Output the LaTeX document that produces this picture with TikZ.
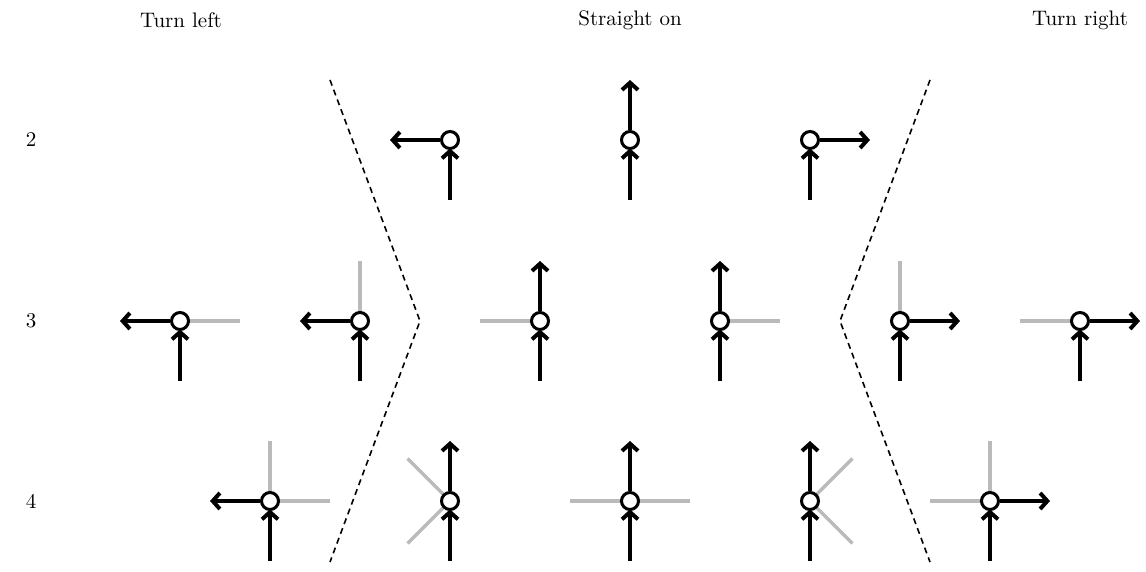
\documentclass[tikz,border=0pt]{standalone}
\usetikzlibrary{arrows.meta,calc}
\tikzset{
  flow/.style={line width=2pt, -{Straight Barb[length=3.6pt,width=8pt]}},
  inflow/.style={line width=2pt, -{Straight Barb[length=3.6pt,width=8pt]}, shorten >=-0.8pt},
  stub/.style={line width=1.6pt, draw=black!27},
  junction/.style={circle, draw=black, line width=1.5pt, fill=white, minimum size=8.5pt, inner sep=0pt},
  divider/.style={line width=0.8pt, dash pattern=on 3pt off 2.2pt},
  heading/.style={font=\fontsize{10.5}{12}\selectfont},
}
% one crossing: #1 name, #2 centre, #3 exit angle, #4 list of blocked-arm angles
\newcommand{\crossing}[4]{%
  \coordinate (#1c) at #2;
  \foreach \a in {#4} {\draw[stub] (#1c) -- ++(\a:30pt);}
  \coordinate (#1in) at ($(#1c)+(0,-30pt)$);
  \node[junction] (#1) at (#1c) {};
  \coordinate (#1out) at ($(#1c)+(#3:30pt)$);
  \draw[inflow] (#1in) -- (#1.south);
  \draw[flow] (#1.#3) -- (#1out);
}
\begin{document}
\begin{tikzpicture}[x=0.5pt,y=-0.5pt]
\useasboundingbox (0,0) rectangle (1146,572);
% column headings and row numbers
\node[heading] (hl) at (181,20) {Turn left};
\node[heading] (hs) at (630,20) {Straight on};
\node[heading] (hr) at (1080,20) {Turn right};
\node[heading] (r2) at (31,140) {2};
\node[heading] (r3) at (31,321) {3};
\node[heading] (r4) at (31,501) {4};
% dividers
\coordinate (dlt) at (330,80); \coordinate (dlm) at (420,321); \coordinate (dlb) at (330,562);
\coordinate (drt) at (930,80); \coordinate (drm) at (840,321); \coordinate (drb) at (930,562);
\draw[divider] (dlt) -- (dlm) -- (dlb);
\draw[divider] (drt) -- (drm) -- (drb);
% row 2
\crossing{a1}{(450,140)}{180}{}
\crossing{a2}{(630,140)}{90}{}
\crossing{a3}{(810,140)}{0}{}
% row 3
\crossing{b1}{(180,321)}{180}{0}
\crossing{b2}{(360,321)}{180}{90}
\crossing{b3}{(540,321)}{90}{180}
\crossing{b4}{(720,321)}{90}{0}
\crossing{b5}{(900,321)}{0}{90}
\crossing{b6}{(1080,321)}{0}{180}
% row 4
\crossing{c1}{(270,501)}{180}{0,90}
\crossing{c2}{(450,501)}{90}{135,225}
\crossing{c3}{(630,501)}{90}{0,180}
\crossing{c4}{(810,501)}{90}{45,-45}
\crossing{c5}{(990,501)}{0}{90,180}
\end{tikzpicture}
\end{document}
